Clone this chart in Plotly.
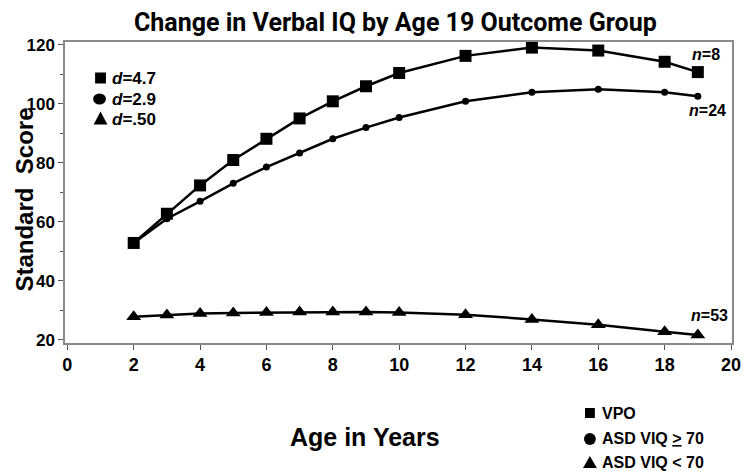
import plotly.graph_objects as go

ages = [2, 3, 4, 5, 6, 7, 8, 9, 10, 12, 14, 16, 18, 19]
vpo = [52.8, 62.7, 72.3, 80.9, 88.1, 95.0, 100.8, 105.9, 110.4, 116.2, 119.0, 118.0, 114.2, 110.7]
asd_hi = [52.8, 61.0, 66.9, 73.0, 78.5, 83.3, 88.1, 91.9, 95.3, 100.8, 103.9, 104.9, 103.9, 102.5]
asd_lo = [27.8, 28.4, 28.9, 29.1, 29.2, 29.4, 29.4, 29.4, 29.2, 28.5, 26.9, 25.1, 22.7, 21.6]

x_ticks = [0, 2, 4, 6, 8, 10, 12, 14, 16, 18, 20]
y_ticks = [20, 40, 60, 80, 100, 120]

# page coordinates (the browser body has an 8px margin, so the figure is offset)
OFF = 8
PW, PH = 750, 471
W, H = PW - OFF, PH - OFF
L, R, T, B = 65, 741, 42, 343
TITLEF = "Roboto, Liberation Sans, sans-serif"
WIDE = "Liberation Sans, Arial, sans-serif"

def px(x):
    return (x - L) / (R - L)

def py(y):
    return (B - y) / (B - T)

fig = go.Figure()
line = dict(color="black", width=2.5)
fig.add_trace(go.Scatter(x=ages, y=vpo, mode="lines+markers", line=line,
                         marker=dict(symbol="square", size=12, color="black"), name="VPO"))
fig.add_trace(go.Scatter(x=ages, y=asd_hi, mode="lines+markers", line=line,
                         marker=dict(symbol="circle", size=7, color="black"), name="ASD VIQ ≥ 70"))
fig.add_trace(go.Scatter(x=ages, y=asd_lo, mode="lines+markers", line=line,
                         marker=dict(symbol="triangle-up", size=13, color="black"), name="ASD VIQ < 70"))

shapes = []
annotations = []

def square(cx, cy, s):
    shapes.append(dict(type="rect", xref="paper", yref="paper",
                       x0=px(cx - s / 2), x1=px(cx + s / 2), y0=py(cy + s / 2), y1=py(cy - s / 2),
                       fillcolor="black", line=dict(width=0)))

def circle(cx, cy, w, h):
    shapes.append(dict(type="circle", xref="paper", yref="paper",
                       x0=px(cx - w / 2), x1=px(cx + w / 2), y0=py(cy + h / 2), y1=py(cy - h / 2),
                       fillcolor="black", line=dict(width=0)))

def triangle(cx, cy, w, h):
    x0, x1, xm = px(cx - w / 2), px(cx + w / 2), px(cx)
    y0, y1 = py(cy + h / 2), py(cy - h / 2)
    shapes.append(dict(type="path", xref="paper", yref="paper",
                       path=f"M {x0} {y0} L {x1} {y0} L {xm} {y1} Z",
                       fillcolor="black", line=dict(width=0)))

def text(t, x, y, size, xanchor="left", angle=0, family=WIDE):
    annotations.append(dict(text=t, xref="paper", yref="paper", x=px(x), y=py(y),
                            xanchor=xanchor, yanchor="middle", showarrow=False, textangle=angle,
                            font=dict(family=family, size=size, color="black")))

# title
text("<b>Change in Verbal IQ by Age 19 Outcome Group</b>", 400, 22, 25, "center", family=TITLEF)

# upper-left effect size key
square(101, 78, 11)
circle(100, 99, 13, 11)
triangle(101, 118, 14, 13)
text("<b><i>d</i>=4.7</b>", 111, 78, 17)
text("<b><i>d</i>=2.9</b>", 111, 99, 17)
text("<b><i>d</i>=.50</b>", 111, 119, 17)

# n labels
text("<b><i>n</i>=8</b>", 715, 55, 16, "center")
text("<b><i>n</i>=24</b>", 716, 111, 16, "center")
text("<b><i>n</i>=53</b>", 718, 315, 16, "center")

# axis titles
text("<b>Age in Years</b>", 369, 437, 25, "center")
text("<b>Standard  Score</b>", 23, 200, 24, "center", angle=-90)

# bottom-right group key
square(597, 413, 10)
circle(597, 439, 12, 12)
triangle(597, 462, 14, 12)
text("<b>VPO</b>", 607, 413, 16)
text("<b>ASD VIQ <u>></u> 70</b>", 607, 439, 16)
text("<b>ASD VIQ < 70</b>", 607, 462, 16)

axis_common = dict(showgrid=False, zeroline=False, showline=True, linecolor="#8a8a8a", linewidth=1.5,
                   mirror=True, ticks="outside", tickcolor="#555", ticklen=5, tickwidth=1)

fig.update_layout(
    width=W, height=H,
    margin=dict(l=L - OFF, r=PW - R, t=T - OFF, b=PH - B),
    paper_bgcolor="white", plot_bgcolor="white",
    showlegend=False,
    xaxis=dict(range=[-0.07, 20.03], tickvals=x_ticks, ticktext=[f"<b>{v}</b>" for v in x_ticks],
               tickfont=dict(family=WIDE, size=18, color="black"), **axis_common),
    yaxis=dict(range=[18.9, 120.9], tickvals=y_ticks, ticktext=[f"<b>{v}</b>" for v in y_ticks],
               tickfont=dict(family=WIDE, size=17, color="black"),
               minor=dict(dtick=10, ticks="outside", ticklen=3, tickcolor="#555"), **axis_common),
    shapes=shapes, annotations=annotations,
)

fig.write_html("out.html")
